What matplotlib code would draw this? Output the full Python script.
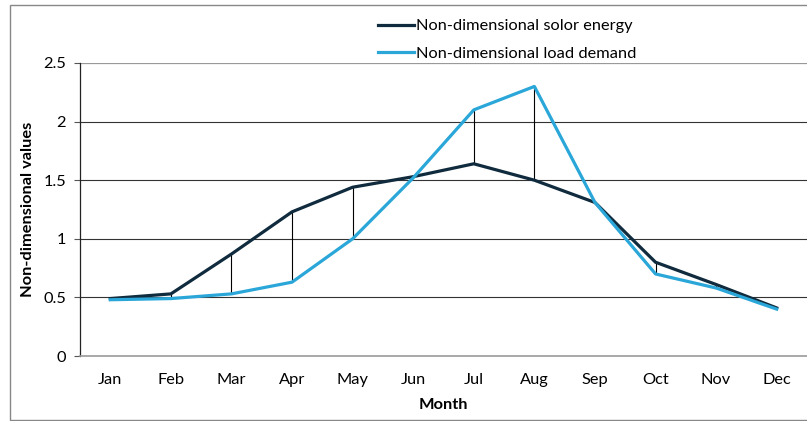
import matplotlib.pyplot as plt
import numpy as np
from matplotlib.patches import Rectangle

months = ["Jan", "Feb", "Mar", "Apr", "May", "Jun", "Jul", "Aug", "Sep", "Oct", "Nov", "Dec"]
solar = [0.49, 0.53, 0.87, 1.23, 1.44, 1.53, 1.64, 1.50, 1.31, 0.80, 0.61, 0.41]
load = [0.48, 0.49, 0.53, 0.63, 1.00, 1.52, 2.10, 2.30, 1.31, 0.70, 0.58, 0.40]
yticks = [0, 0.5, 1, 1.5, 2, 2.5]

plt.rcParams["font.family"] = ["Lato", "DejaVu Sans"]
fs = 11.8

fig = plt.figure(figsize=(8.07, 4.21), dpi=100)
ax = fig.add_axes([80 / 807, 65 / 421, 727 / 807, 293 / 421])

x = np.arange(len(months))
ax.vlines(x, np.minimum(solar, load), np.maximum(solar, load), color="black", lw=0.8, zorder=2)
ax.plot(x, solar, color="#0f2b3d", lw=2.3, label="Non-dimensional solor energy", zorder=3)
ax.plot(x, load, color="#2aa7d8", lw=2.3, label="Non-dimensional load demand", zorder=4)

ax.set_xlim(-0.5, 11.5)
ax.set_ylim(0, 2.5)
ax.set_yticks(yticks)
ax.set_yticklabels([f"{t:g}" for t in yticks], fontsize=fs)
ax.set_xticks(x)
ax.set_xticklabels(months, fontsize=fs)
ax.tick_params(axis="x", length=0, pad=12)
ax.tick_params(axis="y", length=4, width=0.8, color="#555555", pad=6)
for t in yticks[1:-1]:
    ax.axhline(t, color="#333333", lw=0.8, zorder=1)
ax.axhline(2.5, color="#999999", lw=0.9, zorder=1)

for s in ["top", "right"]:
    ax.spines[s].set_visible(False)
ax.spines["left"].set_color("#222222")
ax.spines["left"].set_linewidth(0.9)
ax.spines["bottom"].set_color("#999999")
ax.spines["bottom"].set_linewidth(1.2)

ax.set_xlabel("Month", fontsize=fs, fontweight="bold", labelpad=8)
ax.set_ylabel("Non-dimensional values", fontsize=fs, fontweight="bold", labelpad=6)

ax.legend(loc="upper left", bbox_to_anchor=(359 / 807, 1.0), bbox_transform=fig.transFigure,
          frameon=False, fontsize=fs, handlelength=2.2, handletextpad=0.1,
          labelspacing=0.8, borderaxespad=0.75)

fig.patches.append(Rectangle((10 / 807, 1 / 421), 1.0, 415 / 421, transform=fig.transFigure,
                             fill=False, edgecolor="#888888", lw=1.0))

fig.savefig("out.png", dpi=100)
